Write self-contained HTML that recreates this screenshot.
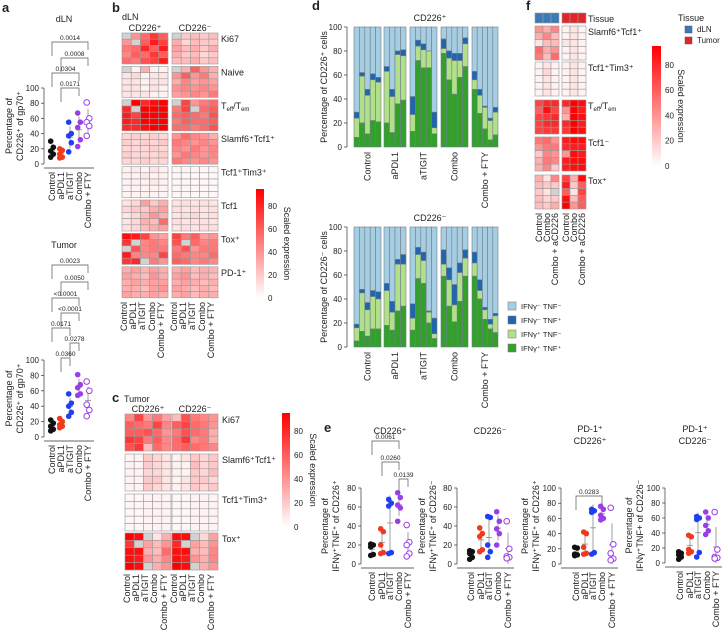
<!DOCTYPE html>
<html><head><meta charset="utf-8"><style>
body{margin:0;background:#fff;width:722px;height:630px;overflow:hidden}
svg{font-family:"Liberation Sans",sans-serif;}
text{fill:#222}
</style></head><body>
<svg id="fig" width="722" height="630" viewBox="0 0 722 630" xmlns="http://www.w3.org/2000/svg">
<g font-weight="bold" font-size="13">
<text x="2" y="12">a</text>
<text x="112" y="12">b</text>
<text x="112" y="402">c</text>
<text x="312" y="10">d</text>
<text x="526" y="10">f</text>
<text x="324" y="432">e</text>
</g>
</svg>
<script>
const NS='http://www.w3.org/2000/svg';
const svg=document.getElementById('fig');
function el(tag,attrs,parent,txt){const e=document.createElementNS(NS,tag);for(const k in attrs)e.setAttribute(k,attrs[k]);if(txt!==undefined)e.textContent=txt;(parent||svg).appendChild(e);return e;}
const N=-1;
const groups=['Control','aPDL1','aTIGIT','Combo','Combo + FTY'];
const dotColors=['#111','#f03a1e','#1f3ff0','#9a3ee8','#9a3ee8'];

// ---------- panel a data ----------
const aDln=[[30,22,17,13,9],[20,18,13,9,8],[55,40,37,28,16],[67,55,48,32,23],[81,60,55,50,37]];
const aTum=[[22,18,14,10,8],[24,20,16,14,12],[56,44,40,32,27],[81,68,64,56,54],[72,60,42,35,27]];
const aTicks=[0,20,40,60,80,100];
// ---------- panel e data ----------
const e1=[[21,20,18,10,9],[37,34,20,12,11],[68,64,61,12,11],[75,70,62,59,45],[41,23,20,11,8]];
const e2=[[14,13,11,7,5],[38,32,29,15,13],[50,49,20,13,7],[55,45,37,32,20],[45,16,8,7,6]];
const e3=[[22,21,13,12,11],[42,40,22,14,13],[72,70,68,15,13],[76,72,64,60,58],[74,26,14,7,5]];
const e4=[[15,13,11,8,5],[37,35,18,15,13],[62,60,58,14,8],[68,60,50,43,38],[68,18,8,7,6]];
const eTicks80=[0,20,40,60,80];
const eTicks100=[0,20,40,60,80,100];

function dotPlot(name,data,xs,y0,yTop,max,ticks,axisX,opts){
  const g=el('g',{},svg);
  
  
  const ys=v=>y0-(v/max)*(y0-yTop);
  el('line',{x1:axisX,y1:ys(0),x2:axisX,y2:ys(max),stroke:'#333','stroke-width':0.7},g);
  el('line',{x1:axisX,y1:y0+4,x2:xs[4]+6,y2:y0+4,stroke:'#333','stroke-width':0.7},g);
  ticks.forEach(t=>{el('line',{x1:axisX-3,y1:ys(t),x2:axisX,y2:ys(t),stroke:'#333','stroke-width':0.7},g);
    const tl=el('text',{x:axisX-5,y:ys(t)+3,'font-size':8,'text-anchor':'end'},g,t);});
  data.forEach((vals,i)=>{
    const m=vals.reduce((a,b)=>a+b,0)/vals.length;
    const sd=Math.sqrt(vals.reduce((a,b)=>a+(b-m)*(b-m),0)/(vals.length-1));
    el('line',{x1:xs[i],y1:ys(m+sd),x2:xs[i],y2:ys(Math.max(0,m-sd)),stroke:'#888','stroke-width':0.8},g);
    el('line',{x1:xs[i]-3,y1:ys(m),x2:xs[i]+3,y2:ys(m),stroke:'#888','stroke-width':0.8},g);
    vals.forEach((v,j)=>{
      const c=el('circle',{cx:xs[i]+(j%2?1.3:-1.3),cy:ys(v),r:2.8,fill:i==4?'#fff':dotColors[i],stroke:dotColors[i],'stroke-width':i==4?1:0},g);
      
      
    });
    const t=el('text',{transform:`translate(${xs[i]+3},${y0+8}) rotate(-90)`,'font-size':9,'text-anchor':'end'},g,groups[i]);
  });
  if(opts.ylab){const t=el('text',{transform:`translate(${opts.ylx},${(y0+ys(max))/2}) rotate(-90)`,'font-size':9,'text-anchor':'middle'},g);
    el('tspan',{x:0,dy:0},t,opts.ylab[0]);el('tspan',{x:0,dy:11},t,opts.ylab[1]);}
  if(opts.title){opts.title.forEach((s,k)=>el('text',{x:opts.tx,y:opts.ty+k*12,'font-size':9,'text-anchor':'middle'},g,s));}
  (opts.brackets||[]).forEach(b=>{
    const [lab,i1,i2,y]=b;
    el('path',{d:`M${xs[i1]},${y+14} V${y} H${xs[i2]} V${y+8}`,fill:'none',stroke:'#555','stroke-width':0.7},g);
    el('text',{x:(xs[i1]+xs[i2])/2,y:y-2,'font-size':6.5,'text-anchor':'middle'},g,lab);
  });
}
const aX=[52,61,70,79,88];
dotPlot('dln-dot-plot',aDln,aX,164,88,100,aTicks,44,{ylab:['Percentage of','CD226⁺ of gp70⁺'],ylx:12,title:['dLN'],tx:64,ty:22,
  brackets:[['0.0014',0,4,42],['0.0008',1,4,58],['0.0304',0,3,73],['0.0171',1,3,88]]});
dotPlot('tumor-dot-plot',aTum,aX,437,360,100,aTicks,44,{ylab:['Percentage of','CD226⁺ of gp70⁺'],ylx:12,title:['Tumor'],tx:64,ty:248,
  brackets:[['0.0023',0,4,265],['0.0050',1,4,282],['<0.0001',0,3,298],['<0.0001',1,3,313],['0.0171',0,2,328],['0.0278',2,3,343],['0.0360',1,2,358]]});
dotPlot('e-cd226pos-plot',e1,[372,382,390,399,408],564,488,80,eTicks80,361,{ylab:['Percentage of','IFNγ⁺TNF⁺ of CD226⁺'],ylx:328,title:['CD226⁺'],tx:390,ty:434,
  brackets:[['0.0061',0,3,441],['0.0260',1,3,462],['0.0139',3,4,479]]});
dotPlot('e-cd226neg-plot',e2,[471,481,489,498,508],564,488,80,eTicks80,457,{ylab:['Percentage of','IFNγ⁺TNF⁺ of CD226⁻'],ylx:425,title:['CD226⁻'],tx:490,ty:434});
dotPlot('e-pd1-cd226pos-plot',e3,[576,585,593,602,612],564,488,100,eTicks100,561,{ylab:['Percentage of','IFNγ⁺TNF⁺ of CD226⁺'],ylx:528,title:['PD-1⁺','CD226⁺'],tx:590,ty:432,
  brackets:[['0.0283',0,3,496]]});
dotPlot('e-pd1-cd226neg-plot',e4,[680,690,698,707,716],563,488,100,eTicks100,665,{ylab:['Percentage of','IFNγ⁺TNF+ of CD226⁻'],ylx:632,title:['PD-1⁺','CD226⁻'],tx:695,ty:432});

// ---------- heatmap data ----------
const bRowLabels=['Ki67','Naive','Teff/Tem','Slamf6⁺Tcf1⁺','Tcf1⁺Tim3⁺','Tcf1','Tox⁺','PD-1⁺'];
const bData=[
[[N,40,55,75,60,N,20,25,20,25],[40,N,60,85,70,30,15,25,20,20],[50,55,80,60,85,35,25,30,20,30],[45,60,55,75,60,30,20,25,15,20],[55,50,65,70,85,25,25,30,20,25]],
[[N,5,30,5,5,N,30,60,40,30],[10,15,5,10,10,40,60,40,50,30],[10,10,5,10,10,30,45,35,40,35],[10,10,5,10,5,40,45,40,45,40],[10,10,10,5,5,35,40,45,40,50]],
[[N,95,80,90,100,N,70,40,50,55],[80,N,95,95,100,50,70,N,55,60],[85,70,95,100,100,55,60,55,50,65],[85,80,95,100,100,50,60,55,55,60],[80,80,90,100,100,55,55,50,55,65]],
[[15,18,15,18,15,40,55,45,40,30],[18,15,18,15,20,50,45,40,45,40],[15,15,15,18,15,45,40,50,40,45],[18,15,15,15,18,40,50,45,40,45],[15,15,18,15,15,50,45,40,45,40]],
[[5,8,5,10,5,3,3,3,3,3],[5,5,8,5,5,3,3,3,3,3],[5,5,5,8,5,3,3,3,3,3],[5,5,5,5,5,3,3,3,3,3],[5,5,5,5,5,3,3,3,3,3]],
[[10,15,35,20,30,10,12,10,12,10],[15,20,20,30,35,12,10,12,10,12],[10,15,25,40,30,10,12,15,10,12],[10,15,30,25,55,12,10,12,12,10],[10,15,25,30,35,10,12,10,12,12]],
[[90,85,70,40,35,70,50,60,35,40],[75,N,45,50,45,65,N,55,45,50],[N,65,45,50,50,50,65,40,50,50],[85,45,45,45,70,55,50,45,45,55],[75,80,N,50,40,60,55,45,50,45]],
[[30,35,28,35,30,30,35,25,30,28],[35,30,25,40,30,35,40,25,30,25],[30,35,30,35,35,30,35,30,25,30],[30,30,25,35,40,35,30,25,30,25],[35,30,30,35,30,30,35,25,30,30]]
];
const cRowLabels=['Ki67','Slamf6⁺Tcf1⁺','Tcf1⁺Tim3⁺','Tox⁺'];
const cData=[
[[45,70,40,50,35,25,65,50,45,40],[60,55,50,70,45,60,70,55,50,40],[60,60,65,55,40,50,65,55,50,30],[75,70,50,60,45,55,75,45,50,30],[65,75,25,55,45,55,60,55,50,45]],
[[5,5,20,15,10,5,10,20,15,20],[5,5,20,15,10,5,5,25,15,20],[5,5,15,15,10,5,5,20,15,25],[5,5,20,20,10,5,10,20,20,15],[5,5,20,15,10,5,10,20,15,20]],
[[3,3,5,5,5,3,3,5,5,5],[3,3,5,5,5,3,3,5,5,5],[3,3,5,5,5,3,3,5,5,5],[3,3,5,5,5,3,3,5,5,5],[3,3,5,5,5,3,3,5,5,5]],
[[95,90,N,10,30,90,90,N,15,35],[75,N,35,25,40,80,N,35,25,40],[90,90,30,25,55,90,90,30,25,45],[90,85,40,30,45,90,85,40,30,45],[95,90,N,30,40,95,90,N,30,40]]
];
const fRowLabels=['Slamf6⁺Tcf1⁺','Tcf1⁺Tim3⁺','Teff/Tem','Tcf1⁻','Tox⁺'];
const fData=[
[[40,30,45,5,10,5],[30,45,25,5,10,5],[10,25,25,10,10,5],[55,30,40,5,10,5],[50,25,55,5,10,5]],
[[5,10,5,5,10,5],[5,15,5,5,10,5],[5,10,5,5,10,5],[5,10,5,5,10,5],[5,10,5,5,10,5]],
[[70,80,80,80,95,90],[60,90,70,40,100,85],[70,75,80,30,95,90],[70,80,80,80,95,85],[70,75,75,75,100,90]],
[[50,55,40,85,90,90],[40,50,50,80,85,85],[20,45,40,40,90,85],[30,50,45,85,90,90],[30,45,20,85,90,90]],
[[30,10,45,70,30,90],[25,20,20,85,20,60],[20,10,N,60,10,70],[25,15,20,90,25,60],[25,20,30,95,40,60]]
];
const barTicks=[0,20,40,60,80];

function col(v){if(v<0)return '#d2d2d2';const t=Math.min(1,v/95);const c=Math.round(255*(1-t));return `rgb(255,${c},${c})`;}
function heat(name,data,labels,blockX,nc,cw,groupY,ch,labX){
  const g=el('g',{},svg);
  
  
  data.forEach((grp,gi)=>{
    grp.forEach((row,ri)=>{
      row.forEach((v,ci)=>{
        const b=Math.floor(ci/nc),k=ci%nc;
        const r=el('rect',{x:blockX[b]+k*cw,y:groupY[gi]+ri*ch,width:cw,height:ch,fill:col(v),stroke:'#9a9a9a','stroke-width':0.6},g);
        
        
      });
    });
    const lab=labels[gi];
    const t=el('text',{x:labX,y:groupY[gi]+9,'font-size':9},g);
    if(lab==='Teff/Tem'){t.textContent='T';el('tspan',{'font-size':6,dy:2},t,'eff');el('tspan',{dy:-2},t,'/T');el('tspan',{'font-size':6,dy:2},t,'em');}
    else t.textContent=lab;
  });
}
function colorbar(name,x,yTop,yBot,w,labX){
  const g=el('g',{},svg);
  
  
  const id='grad'+name;
  const d=el('defs',{},g);const lg=el('linearGradient',{id:id,x1:0,y1:1,x2:0,y2:0},d);
  el('stop',{offset:0,'stop-color':'#fff'},lg);el('stop',{offset:1,'stop-color':'#ff0000'},lg);
  el('rect',{x:x,y:yTop,width:w,height:yBot-yTop,fill:`url(#${id})`},g);
  [0,20,40,60,80].forEach(t=>{const y=yBot-t/95*(yBot-yTop);el('text',{x:x+w+4,y:y+3,'font-size':8},g,t);});
  el('text',{transform:`translate(${labX},${(yTop+yBot)/2}) rotate(90)`,'font-size':9,'text-anchor':'middle'},g,'Scaled expression');
}
function colLabels(xs,y,labs,name){
  labs.forEach((s,i)=>{const t=el('text',{transform:`translate(${xs[i]},${y}) rotate(-90)`,'font-size':9,'text-anchor':'end'},svg,s);
    });
}
// b
const bGY=bData.map((_,i)=>33+i*33.4);
heat('heatmap-b',bData,bRowLabels,[122,172],5,9.2,bGY,6.2,221);
el('text',{x:122,y:20,'font-size':9},svg,'dLN');
el('text',{x:145,y:31,'font-size':9,'text-anchor':'middle'},svg,'CD226⁺');
el('text',{x:195,y:31,'font-size':9,'text-anchor':'middle'},svg,'CD226⁻');
colorbar('colorbar-b',256,189,298,8,284);
colLabels([127,136,145,155,164,177,186,195,205,214],302,groups.concat(groups),'heatmap-b-column-label');
// c
heat('heatmap-c',cData,cRowLabels,[125,172],5,9.2,[414,454,494,533],7.4,222);
el('text',{x:124,y:402,'font-size':9},svg,'Tumor');
el('text',{x:148,y:412,'font-size':9,'text-anchor':'middle'},svg,'CD226⁺');
el('text',{x:195,y:412,'font-size':9,'text-anchor':'middle'},svg,'CD226⁻');
colorbar('colorbar-c',282,413,527,8,310);
colLabels([130,139,148,157,167,177,186,195,204,214],574,groups.concat(groups),'heatmap-c-column-label');
// f
[0,1,2].forEach(k=>{el('rect',{x:535+k*8,y:13,width:8,height:10,fill:'#3a7ab8',stroke:'#9a9a9a','stroke-width':0.6});
  el('rect',{x:562+k*8,y:13,width:8,height:10,fill:'#e0262a',stroke:'#9a9a9a','stroke-width':0.6});});
el('text',{x:588,y:22,'font-size':9},svg,'Tissue');
heat('heatmap-f',fData,fRowLabels,[535,562],3,8,[26,62,100,137,175],6.8,588);
colorbar('colorbar-f',652,46,166,9,678);
el('text',{x:678,y:21,'font-size':9},svg,'Tissue');
el('rect',{x:685,y:26,width:7,height:7,fill:'#3a7ab8',stroke:'#555','stroke-width':0.5});
el('text',{x:697,y:32,'font-size':8},svg,'dLN');
el('rect',{x:685,y:37,width:7,height:7,fill:'#e0262a',stroke:'#555','stroke-width':0.5});
el('text',{x:697,y:43,'font-size':8},svg,'Tumor');
colLabels([542,550,558,569,577,585],213,['Control','Combo','Combo + aCD226','Control','Combo','Combo + aCD226'],'heatmap-f-column-label');

// ---------- panel d data (cumulative tops: green, light-green, dark-blue) ----------
const dGroupSizes=[5,4,5,5,5];
const dTopGreen=[8,20,11,22,21, 20,12,36,39, 13,72,66,66,11, 78,56,44,58,67, 48,28,15,6,10];
const dTopLight=[24,59,43,56,54, 63,42,77,76, 27,84,81,80,16, 82,74,72,72,86, 56,43,33,22,29];
const dTopDark=[29,62,48,61,58, 67,48,80,81, 42,89,86,80,29, 90,80,78,78,91, 63,48,34,24,33];
const dBotGreen=[5,13,9,15,15, 18,14,30,34, 14,57,53,20,7, 59,34,21,38,59, 59,40,23,15,12];
const dBotLight=[16,45,31,42,40, 47,29,69,69, 24,77,72,29,11, 69,56,35,62,74, 70,47,31,19,26];
const dBotDark=[19,48,37,47,46, 53,38,73,77, 36,83,79,30,24, 81,66,52,70,81, 79,56,33,23,28];
const dColors=['#a6cde2','#2166ac','#b2df8a','#33a02c'];
const dGroupX=[354,384,410,441,472];
const dGroupW=[27,22,27,27,26];
const dTicks=[0,20,40,60,80,100];
function stacked(name,g1,g2,g3,y0,yTop,title,ylab){
  const g=el('g',{},svg);
  
  
  const ys=v=>y0-v/100*(y0-yTop);
  el('line',{x1:347,y1:ys(0),x2:347,y2:ys(100),stroke:'#333','stroke-width':0.7},g);
  dTicks.forEach(t=>{el('line',{x1:344,y1:ys(t),x2:347,y2:ys(t),stroke:'#333','stroke-width':0.7},g);el('text',{x:342,y:ys(t)+3,'font-size':8,'text-anchor':'end'},g,t);});
  el('text',{transform:`translate(327,${(y0+yTop)/2}) rotate(-90)`,'font-size':9,'text-anchor':'middle'},g,ylab);
  el('text',{x:430,y:yTop-6,'font-size':9,'text-anchor':'middle'},g,title);
  let idx=0;
  dGroupSizes.forEach((n,gi)=>{
    const bw=dGroupW[gi]/n;
    for(let k=0;k<n;k++,idx++){
      const x=dGroupX[gi]+k*bw;
      const segs=[[100,g3[idx],dColors[0]],[g3[idx],g2[idx],dColors[1]],[g2[idx],g1[idx],dColors[2]],[g1[idx],0,dColors[3]]];
      segs.forEach(s=>{const r=el('rect',{x:x,y:ys(s[0]),width:bw,height:Math.max(0,ys(s[1])-ys(s[0])),fill:s[2],stroke:'#6f7f88','stroke-width':0.6},g);
        });
    }
  });
}
stacked('stacked-bars-cd226pos',dTopGreen,dTopLight,dTopDark,147,27,'CD226⁺','Percentage of CD226⁺ cells');
stacked('stacked-bars-cd226neg',dBotGreen,dBotLight,dBotDark,347,227,'CD226⁻','Percentage of CD226⁻ cells');
colLabels(dGroupX.map((x,i)=>x+dGroupW[i]/2+3),152,groups,'d-top-category-label');
colLabels(dGroupX.map((x,i)=>x+dGroupW[i]/2+3),352,groups,'d-bottom-category-label');
const legLabels=['IFNγ⁻ TNF⁻','IFNγ⁻ TNF⁺','IFNγ⁺ TNF⁻','IFNγ⁺ TNF⁺'];
legLabels.forEach((s,i)=>{
  const r=el('rect',{x:508,y:302+i*14,width:8,height:8,fill:dColors[i],stroke:'#777','stroke-width':0.5});
  
  const t=el('text',{x:521,y:309+i*14,'font-size':7.5},svg,s);
  
});
</script>
</body></html>
